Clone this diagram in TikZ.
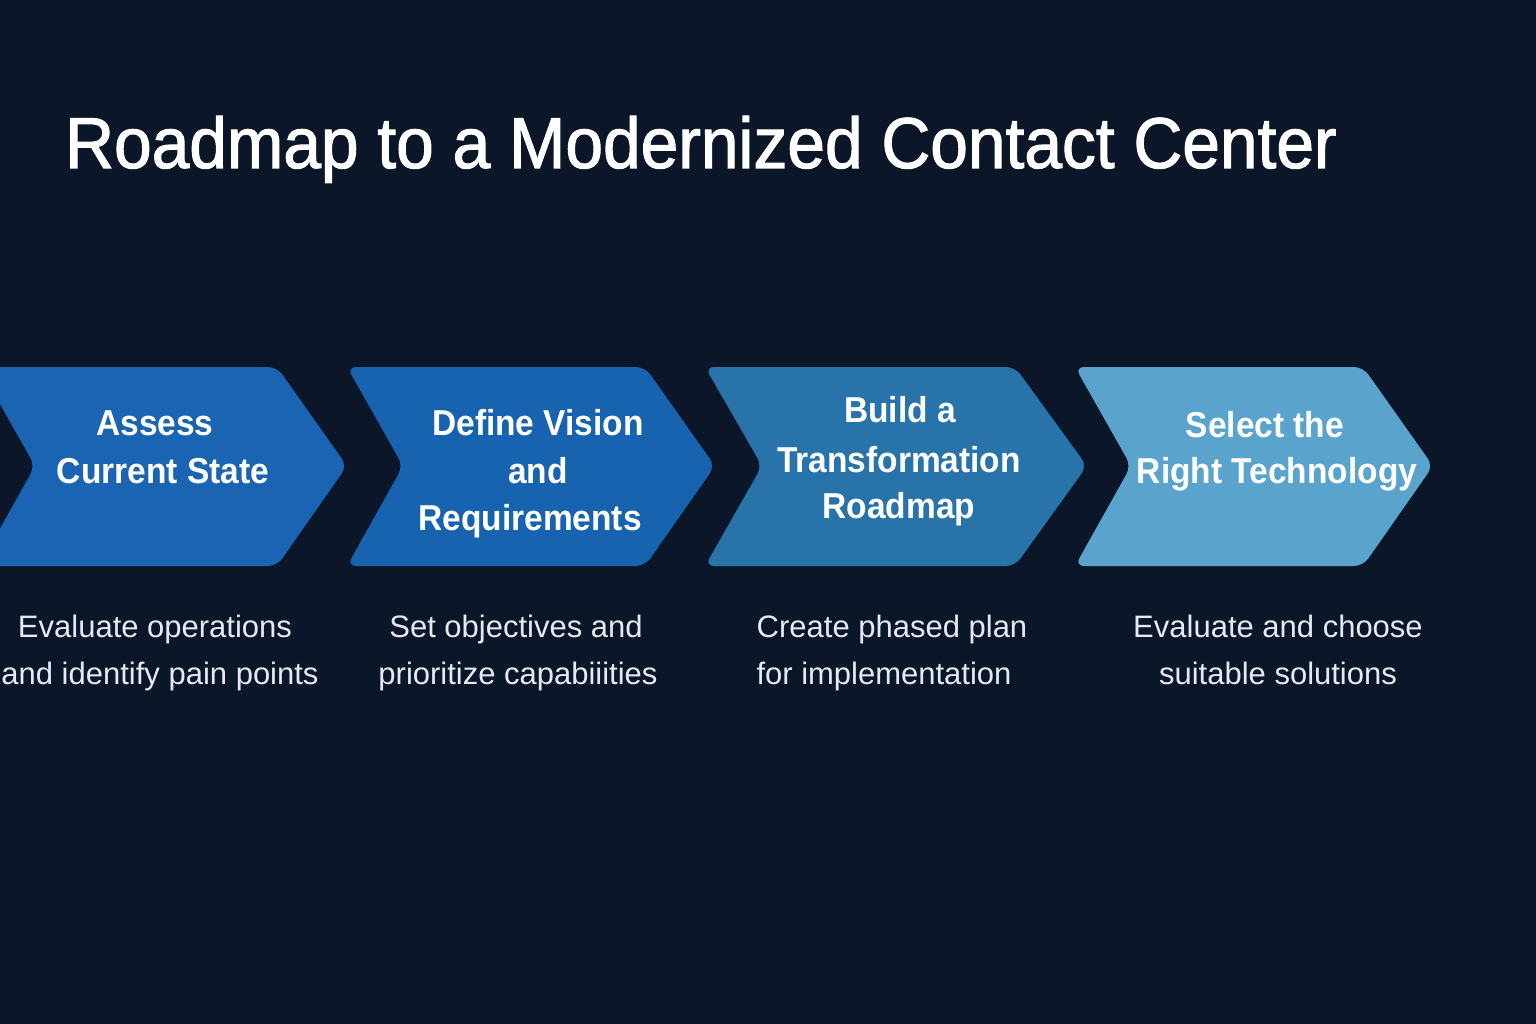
\documentclass[tikz,border=0pt]{standalone}
\usepackage{fontspec}
\setmainfont{Liberation Sans}
\newfontfamily\titlefont[FakeBold=1.5,FakeStretch=0.94]{Liberation Sans}
\newfontfamily\chevfont[FakeStretch=0.93]{Liberation Sans}
\definecolor{bgnavy}{HTML}{0B1729}
\definecolor{chevA}{HTML}{1A64B3}
\definecolor{chevB}{HTML}{1863AF}
\definecolor{chevC}{HTML}{2873A9}
\definecolor{chevD}{HTML}{5AA3CC}
\definecolor{descgray}{HTML}{E6EAF0}
\newcommand\chevshape[5]{\fill[#5, rounded corners=9pt] (#1,367) -- (#3,367) -- (#4,466) -- (#3,566) -- (#1,566) -- (#2,466) -- cycle;}
\begin{document}
\begin{tikzpicture}[x=1pt,y=-1pt,
  titletext/.style={font=\titlefont\fontsize{72}{84}\selectfont, text=white, anchor=base west, inner sep=0},
  chevtext/.style={font=\chevfont\fontsize{36}{43}\selectfont\bfseries, text=white, anchor=base, inner sep=0},
  desctext/.style={font=\fontsize{31}{37}\selectfont, text=descgray, anchor=base, inner sep=0}]
\fill[bgnavy] (0,0) rectangle (1536,1024);
\useasboundingbox (0,0) rectangle (1536,1024);
\clip (0,0) rectangle (1536,1024);
\node[titletext] (title) at (65,168) {Roadmap to a Modernized Contact Center};
\chevshape{-21}{35}{277}{347}{chevA}
\chevshape{347}{403}{645}{715}{chevB}
\chevshape{705}{762}{1015}{1087}{chevC}
\chevshape{1075}{1131}{1363}{1433}{chevD}
% step titles
\node[chevtext] (t1a) at (155,435) {Assess};
\node[chevtext] (t1b) at (163,483) {Current State};
\node[chevtext] (t2a) at (538,435) {Define Vision};
\node[chevtext] (t2b) at (538,483) {and};
\node[chevtext] (t2c) at (530,530) {Requirements};
\node[chevtext] (t3a) at (900,422) {Build a};
\node[chevtext] (t3b) at (899,472) {Transformation};
\node[chevtext] (t3c) at (899,518) {Roadmap};
\node[chevtext] (t4a) at (1265,437) {Select the};
\node[chevtext] (t4b) at (1277,483) {Right Technology};
% descriptions
\node[desctext] (d1a) at (155,637) {Evaluate operations};
\node[desctext] (d1b) at (160,684) {and identify pain points};
\node[desctext] (d2a) at (516,637) {Set objectives and};
\node[desctext] (d2b) at (518,684) {prioritize capabiiities};
\node[desctext] (d3a) at (892,637) {Create phased plan};
\node[desctext] (d3b) at (884,684) {for implementation};
\node[desctext] (d4a) at (1278,637) {Evaluate and choose};
\node[desctext] (d4b) at (1278,684) {suitable solutions};
\end{tikzpicture}
\end{document}
